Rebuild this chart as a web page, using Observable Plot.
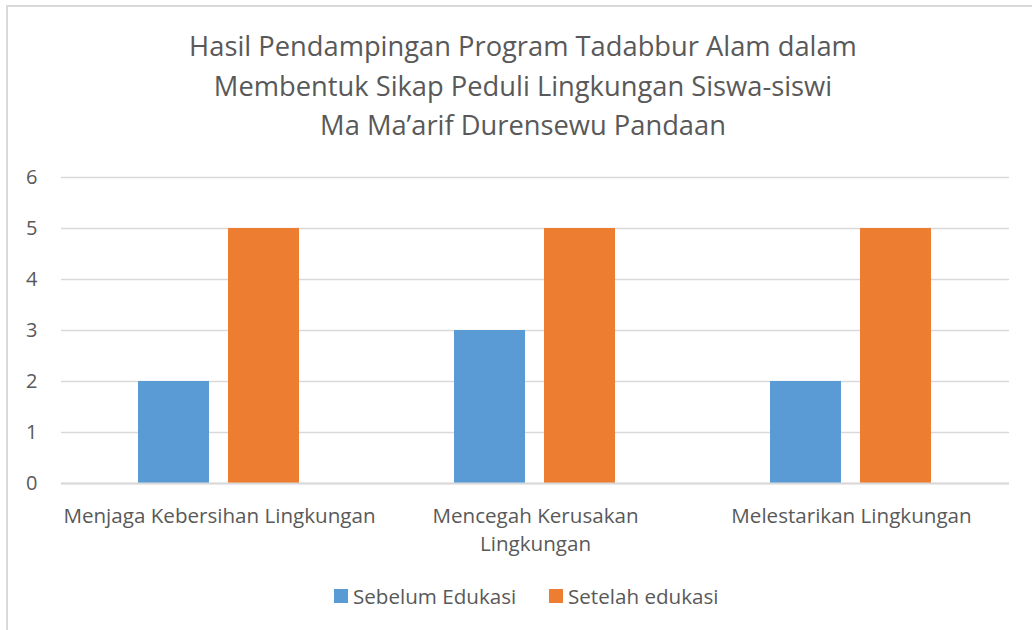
<!DOCTYPE html>
<html>
<head>
<meta charset="utf-8">
<script src="https://cdn.jsdelivr.net/npm/d3@7"></script>
<script src="https://cdn.jsdelivr.net/npm/@observablehq/plot@0.6"></script>
<style>
  html, body { margin: 0; padding: 0; background: #fff; }
  #wrap { position: relative; width: 1032px; height: 630px; overflow: hidden; font-family: "Open Sans", sans-serif; color: #595959; }
  #frame { position: absolute; left: 6px; top: 5px; width: 1100px; height: 700px; border-left: 2px solid #d9d9d9; border-top: 2px solid #d9d9d9; }
  #title { position: absolute; left: 0; top: 26px; width: 1046px; text-align: center; font-size: 27.3px; line-height: 39.5px; color: #595959; }
  #chart { position: absolute; left: 0; top: 160px; }
  #legend { position: absolute; top: 581px; left: 0; width: 1032px; height: 30px; font-size: 20.6px; }
  .item { position: absolute; top: 0; display: flex; align-items: center; height: 30px; }
  .sw { width: 14px; height: 14px; margin-right: 5px; }
</style>
</head>
<body>
<div id="wrap">
  <div id="frame"></div>
  <div id="title"></div>
  <div id="chart"></div>
  <div id="legend"></div>
</div>
<script>
const titleLines = ["Hasil Pendampingan Program Tadabbur Alam dalam", "Membentuk Sikap Peduli Lingkungan Siswa-siswi", "Ma Ma\u2019arif Durensewu Pandaan"];
const categories = ["Menjaga Kebersihan Lingkungan", "Mencegah Kerusakan Lingkungan", "Melestarikan Lingkungan"];
const categoryLabels = ["Menjaga Kebersihan Lingkungan", "Mencegah Kerusakan\nLingkungan", "Melestarikan Lingkungan"];
const seriesNames = ["Sebelum Edukasi", "Setelah edukasi"];
const sebelum = [2, 3, 2];
const setelah = [5, 5, 5];
const colors = ["#5B9BD5", "#ED7D31"];
const yTicks = [0, 1, 2, 3, 4, 5, 6];

document.getElementById("title").innerHTML = titleLines.map(l => `<div>${l}</div>`).join("");

const data = [];
categories.forEach((c, i) => {
  data.push({cat: c, series: seriesNames[0], value: sebelum[i]});
  data.push({cat: c, series: seriesNames[1], value: setelah[i]});
});

const chart = Plot.plot({
  width: 1032,
  height: 400,
  marginLeft: 60,
  marginRight: 22,
  marginTop: 17,
  marginBottom: 77,
  style: {fontFamily: "Open Sans, sans-serif", color: "#595959", background: "transparent"},
  fx: {domain: categories, padding: 0, label: null, axis: null},
  x: {domain: seriesNames, paddingInner: 0.21, paddingOuter: 0.86, axis: null},
  y: {domain: [0, 6], label: null, axis: null},
  color: {domain: seriesNames, range: colors},
  marks: [
    Plot.ruleY(yTicks, {stroke: "#d9d9d9", strokeWidth: 1.5}),
    Plot.barY(data, {fx: "cat", x: "series", y: "value", fill: "series"}),
    Plot.ruleY([0], {stroke: "#d9d9d9", strokeWidth: 2}),
    Plot.axisY(yTicks, {anchor: "left", tickSize: 0, tickPadding: 24, fontSize: 20, fill: "#595959", tickFormat: d3.format("d"), label: null}),
    Plot.axisFx({anchor: "bottom", tickSize: 0, tickPadding: 20, fontSize: 20.6, lineHeight: 1.36, fill: "#595959", label: null,
                 tickFormat: d => categoryLabels[categories.indexOf(d)]})
  ]
});
document.getElementById("chart").appendChild(chart);

const legend = document.getElementById("legend");
const lefts = [334, 549];
seriesNames.forEach((s, i) => {
  const it = document.createElement("div");
  it.className = "item";
  it.style.left = lefts[i] + "px";
  it.innerHTML = `<div class="sw" style="background:${colors[i]}"></div><span>${s}</span>`;
  legend.appendChild(it);
});
</script>
</body>
</html>
